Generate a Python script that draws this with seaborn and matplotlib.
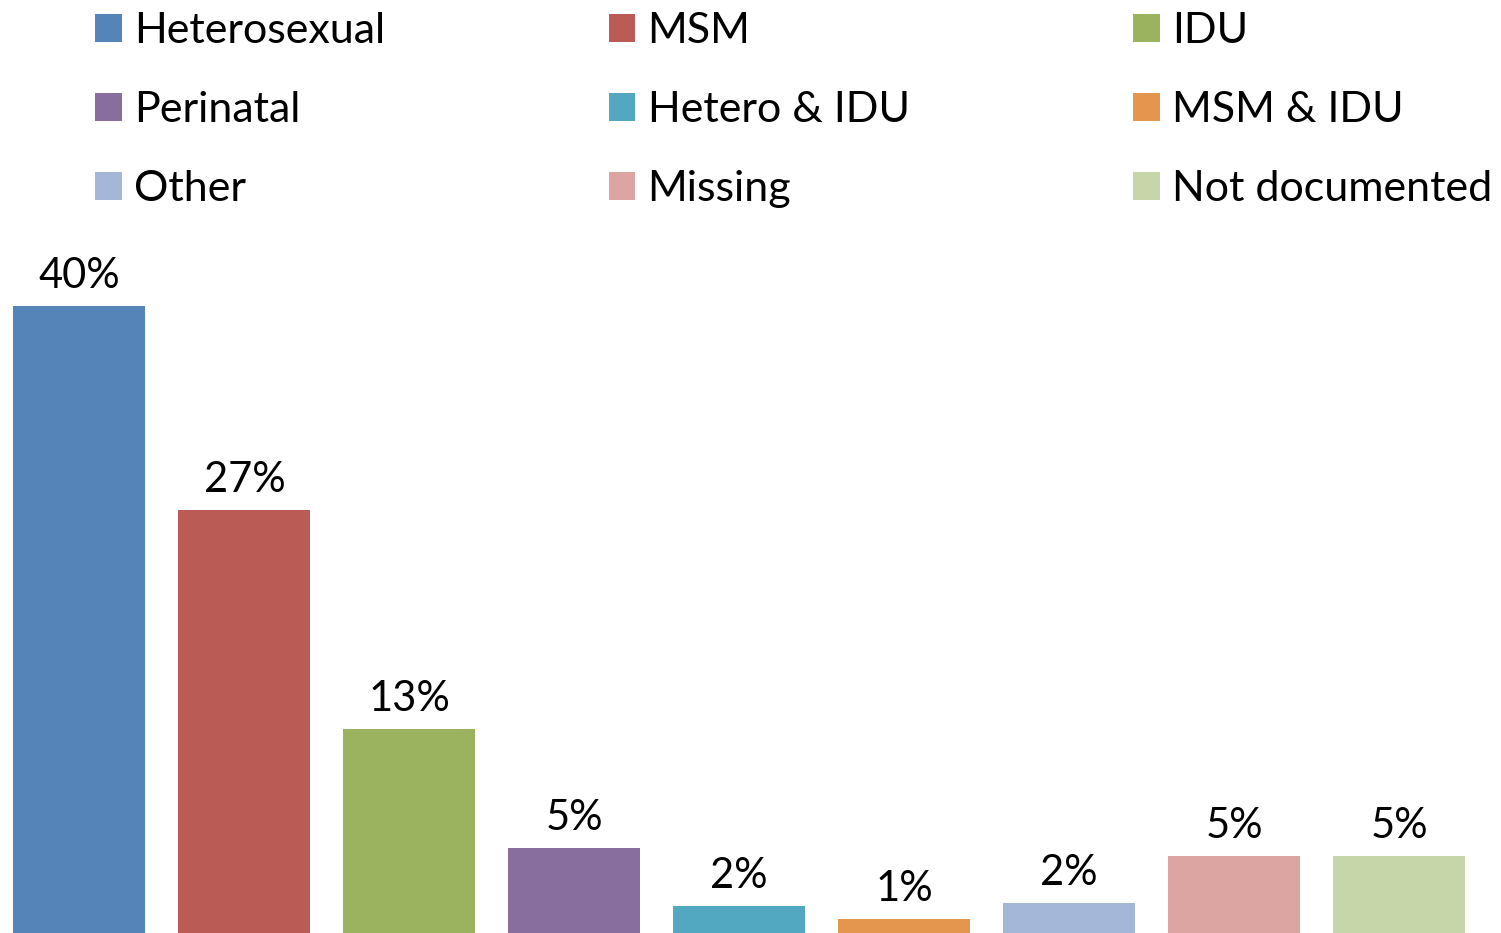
import matplotlib
matplotlib.use("Agg")
import matplotlib.pyplot as plt
import pandas as pd
import seaborn as sns
from matplotlib.patches import Patch

# Values (labels are rounded percentages)
categories = ["Heterosexual", "MSM", "IDU", "Perinatal", "Hetero & IDU",
              "MSM & IDU", "Other", "Missing", "Not documented"]
values = [40.0, 27.0, 13.0, 5.4, 1.7, 0.9, 1.9, 4.9, 4.9]
labels = ["40%", "27%", "13%", "5%", "2%", "1%", "2%", "5%", "5%"]
colors = ["#5585B8", "#BA5B55", "#9BB25E", "#876E9E", "#51A8C0",
          "#E4964E", "#A4B7D8", "#DCA5A2", "#C6D6A8"]

df = pd.DataFrame({"category": categories, "value": values})

sns.set_theme(style="white")
plt.rcParams["font.family"] = ["Lato", "DejaVu Sans"]
plt.rcParams["text.color"] = "black"

fig = plt.figure(figsize=(15.01, 9.33), dpi=100)
ax = fig.add_axes([-0.002, 0.0, 0.989, 627 / 933])

sns.barplot(data=df, x="category", y="value", hue="category",
            palette=colors, width=0.8, legend=False, ax=ax, saturation=1,
            linewidth=0)

for cont, lab in zip(ax.containers, labels):
    ax.bar_label(cont, labels=[lab], padding=8, fontsize=30, color="black")

ax.set_ylim(0, 40)
ax.set_xlim(-0.5, len(categories) - 0.5)
ax.axis("off")

# legend: row-major order in a 3-column layout (matplotlib fills by column)
handles = [Patch(facecolor=c, edgecolor="none") for c in colors]
order = [0, 3, 6, 1, 4, 7, 2, 5, 8]
fig.legend([handles[i] for i in order], [categories[i] for i in order],
           ncol=3, loc="upper left", bbox_to_anchor=(0.0633, 0.0, 0.931, 0.987),
           mode="expand", frameon=False, fontsize=31, borderpad=0,
           borderaxespad=0, handlelength=0.62, handleheight=0.62,
           handletextpad=0.28, labelspacing=0.95)

fig.savefig("out.png", dpi=100)
